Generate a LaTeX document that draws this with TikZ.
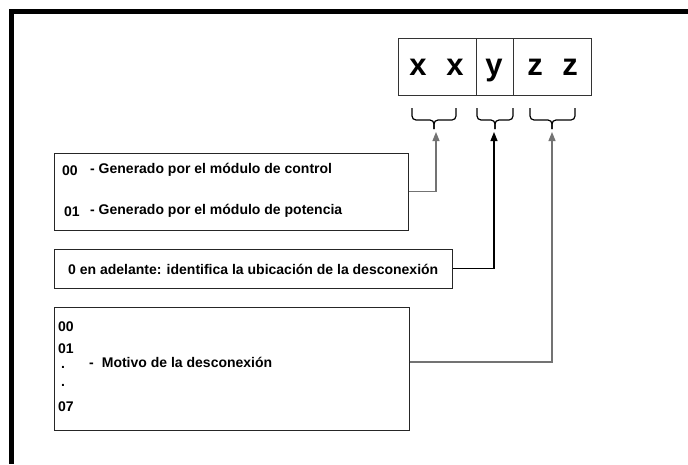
\documentclass[tikz,border=0pt]{standalone}
\usepackage{fontspec}
\setmainfont{Liberation Sans}
\usetikzlibrary{arrows.meta}
\newcommand\mybrace[3]{%
  \draw[brc] (#1,108) -- (#1,120) -- (#3,120) -- (#3,129);
  \draw[brc] (#2,108) -- (#2,120) -- (#3,120) -- (#3,129);}
\begin{document}
\begin{tikzpicture}[x=1pt,y=-1pt,
  lbl/.style={font=\fontsize{14}{16}\selectfont\bfseries, inner sep=0pt, anchor=west},
  big/.style={font=\fontsize{31}{34}\selectfont\bfseries, inner sep=0pt, anchor=base},
  box/.style={draw=black!85, line width=1pt, inner sep=0pt},
  cell/.style={draw=black!80, line width=0.9pt, inner sep=0pt, minimum height=57pt},
  conn/.style={line width=1.1pt, -{Triangle[length=9pt,width=7pt]}},
  brc/.style={line width=1.2pt, rounded corners=4pt}]
\useasboundingbox (0,0) rectangle (688,464);
% frame
\fill[black] (9,9) rectangle (688,14);
\fill[black] (9,9) rectangle (14,464);
% code cells
\node[cell, minimum width=78pt] (xx) at (437,66.5) {};
\node[cell, minimum width=37pt] (yy) at (494.5,66.5) {};
\node[cell, minimum width=78pt] (zz) at (552,66.5) {};
\node[big] (x1) at (418,75) {x};
\node[big] (x2) at (455,75) {x};
\node[big] (y1) at (494,75) {y};
\node[big] (z1) at (535,75) {z};
\node[big] (z2) at (570,75) {z};
% braces
\mybrace{412}{456}{434}
\mybrace{477}{513}{495}
\mybrace{530}{575}{552}
\coordinate (a1) at (436,132);
\coordinate (a2) at (494,132);
\coordinate (a3) at (552,132);
% boxes
\node[box, minimum width=354pt, minimum height=77pt] (b1) at (231,191.5) {};
\node[box, minimum width=398pt, minimum height=39pt] (b2) at (253,268.5) {};
\node[box, minimum width=355pt, minimum height=123pt] (b3) at (231.5,368.5) {};
% box 1 text
\node[lbl] (n00a) at (62,171) {00};
\node[lbl] (t1) at (90,170) {- Generado por el módulo de control};
\node[lbl] (n01a) at (64,212) {01};
\node[lbl] (t2) at (90,211) {- Generado por el módulo de potencia};
% box 2 text
\node[lbl] (t3) at (68,269) {0 en adelante: identifica la ubicación de la desconexión};
% box 3 text
\node[lbl] (n00b) at (58,327) {00};
\node[lbl] (n01b) at (58,349) {01};
\node[lbl] (d1) at (61,367) {.};
\node[lbl] (d2) at (61,385) {.};
\node[lbl] (n07b) at (58,407) {07};
\node[lbl] (mot) at (89,362) {-\hspace{8pt}Motivo de la desconexión};
% connectors
\draw[conn, draw=black!55] (b1.east) -| (a1);
\draw[conn, draw=black] (b2.east) -| (a2);
\draw[conn, draw=black!55] (b3.east |- mot) -| (a3);
\end{tikzpicture}
\end{document}
